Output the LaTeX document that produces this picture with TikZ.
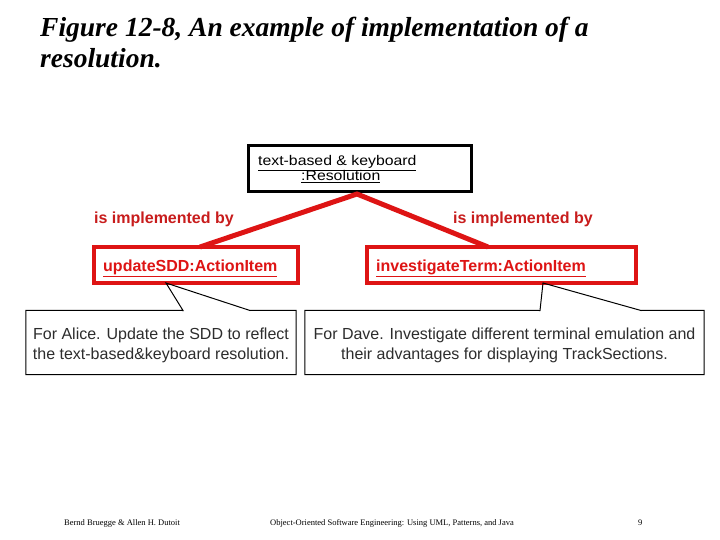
\documentclass[tikz,border=0pt]{standalone}
\usepackage{fontspec}
\setmainfont{Liberation Serif}
\setsansfont{Liberation Sans}
\newfontfamily\widesans[FakeStretch=1.13]{Liberation Sans}
\definecolor{myred}{RGB}{222,20,20}
\definecolor{txtred}{RGB}{200,28,28}
\definecolor{notetext}{RGB}{45,45,45}
\tikzset{
  titletext/.style={anchor=base west,inner sep=0pt,font=\fontsize{27.5}{32}\selectfont\bfseries\itshape},
  objbox/.style={draw=black,line width=3pt,minimum width=223pt,minimum height=46pt,inner sep=0pt},
  itembox/.style={draw=myred,line width=4pt,minimum height=36pt,inner sep=0pt},
  objtext/.style={anchor=base west,inner sep=0pt,font=\widesans\fontsize{14}{14}\selectfont},
  itemtext/.style={anchor=base west,inner sep=0pt,text=myred,font=\sffamily\bfseries\fontsize{16}{18}\selectfont},
  reltext/.style={anchor=base west,inner sep=0pt,text=txtred,font=\sffamily\bfseries\fontsize{16}{18}\selectfont},
  notebox/.style={draw=none,minimum height=64pt,inner sep=0pt},
  notetxt/.style={anchor=base,inner sep=0pt,text=notetext,font=\sffamily\fontsize{16}{20}\selectfont},
  noteline/.style={draw=black,line width=1pt,line join=miter},
  link/.style={draw=myred,line width=5pt,line join=miter},
  foot/.style={anchor=base west,inner sep=0pt,font=\fontsize{8.5}{10}\selectfont}
}
\begin{document}
\begin{tikzpicture}[x=1pt,y=-1pt]
\useasboundingbox[fill=white] (0,0) rectangle (720,540);
% title
\node[titletext] (title1) at (40,37) {Figure 12-8, An example of implementation of a};
\node[titletext] (title2) at (40,68) {resolution.};
% resolution object
\node[objbox] (res) at (359.5,169) {};
\node[objtext] (resa) at (258,166) {\underline{text-based \& keyboard}};
\node[objtext] (resb) at (301,181) {\underline{:Resolution}};
% action items
\node[itembox,minimum width=204pt] (upd) at (196,265) {};
\node[itembox,minimum width=269pt] (inv) at (501.5,265) {};
\node[itemtext] (updt) at (103,271) {\underline{updateSDD:ActionItem}};
\node[itemtext] (invt) at (376,271) {\underline{investigateTerm:ActionItem}};
% links
\coordinate (apex) at (357,194);
\coordinate (updtop) at (200,247);
\coordinate (invtop) at (488,247);
\draw[link] (updtop) -- (apex) -- (invtop);
\node[reltext] (rel1) at (94,224) {is implemented by};
\node[reltext] (rel2) at (453,224) {is implemented by};
% notes
\node[notebox,minimum width=270pt] (note1) at (161,342.5) {};
\node[notebox,minimum width=399pt] (note2) at (504.5,342.5) {};
\coordinate (tip1) at (166,283);
\coordinate (b1a) at (183,310.5);
\coordinate (b1b) at (250,310.5);
\coordinate (tip2) at (543,283);
\coordinate (b2a) at (540,310.5);
\coordinate (b2b) at (641,310.5);
\draw[noteline] (note1.north west) -- (b1a) -- (tip1) -- (b1b) -- (note1.north east) -- (note1.south east) -- (note1.south west) -- cycle;
\draw[noteline] (note2.north west) -- (b2a) -- (tip2) -- (b2b) -- (note2.north east) -- (note2.south east) -- (note2.south west) -- cycle;
\node[notetxt] (n1a) at (161,339) {For Alice. Update the SDD to reflect};
\node[notetxt] (n1b) at (161,359) {the text-based\&keyboard resolution.};
\node[notetxt] (n2a) at (504.5,339) {For Dave. Investigate different terminal emulation and};
\node[notetxt] (n2b) at (504.5,359) {their advantages for displaying TrackSections.};
% footer
\node[foot] (f1) at (64,525) {Bernd Bruegge \& Allen H. Dutoit};
\node[foot] (f2) at (270,525) {Object-Oriented Software Engineering: Using UML, Patterns, and Java};
\node[foot] (f3) at (638,525) {9};
\end{tikzpicture}
\end{document}
